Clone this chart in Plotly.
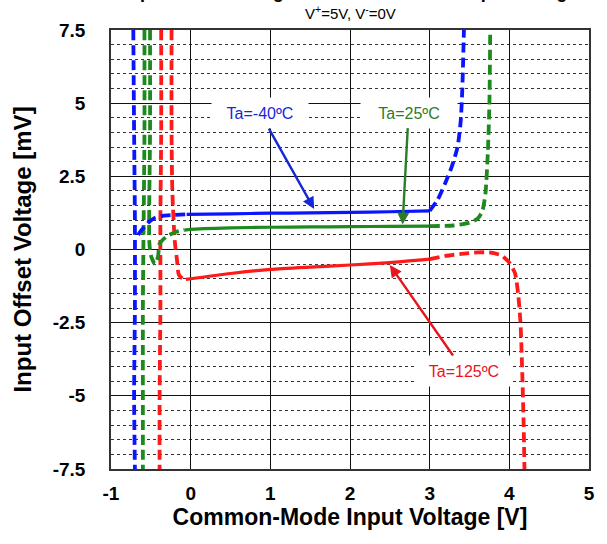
import plotly.graph_objects as go

# ---------------- data ----------------
x_ticks = [-1, 0, 1, 2, 3, 4, 5]
x_tick_text = ["-1", "0", "1", "2", "3", "4", "5"]
y_ticks = [-7.5, -5, -2.5, 0, 2.5, 5, 7.5]
y_tick_text = ["-7.5", "-5", "-2.5", "0", "2.5", "5", "7.5"]

# Ta = -40 C (blue)
blue_v_x = [-0.72, -0.71, -0.70, -0.70, -0.71, -0.70]
blue_v_y = [7.5, 4.0, 1.0, -2.0, -5.0, -7.5]
blue_join_x = [-0.66, -0.62, -0.57, -0.52, -0.45, -0.35, -0.20, -0.05]
blue_join_y = [0.50, 0.65, 0.80, 0.95, 1.08, 1.15, 1.18, 1.20]
blue_flat_x = [-0.05, 0.5, 1.0, 1.5, 2.0, 2.5, 3.0]
blue_flat_y = [1.20, 1.22, 1.24, 1.25, 1.27, 1.29, 1.32]
blue_right_x = [3.0, 3.1, 3.2, 3.28, 3.35, 3.39, 3.41, 3.43]
blue_right_y = [1.32, 1.7, 2.3, 2.85, 3.5, 4.4, 5.5, 7.5]

# Ta = 25 C (green)
green_v_x = [-0.58, -0.58, -0.59, -0.60, -0.60, -0.60]
green_v_y = [7.5, 4.0, 1.0, -2.0, -5.0, -7.5]
green_join_x = [-0.51, -0.51, -0.52, -0.52, -0.50, -0.45, -0.41, -0.39, -0.30, -0.19, -0.08]
green_join_y = [7.5, 4.0, 1.5, 0.3, -0.2, -0.5, -0.25, 0.2, 0.45, 0.60, 0.67]
green_flat_x = [-0.08, 0.0, 0.5, 1.0, 1.5, 2.0, 2.5, 3.0]
green_flat_y = [0.66, 0.69, 0.74, 0.76, 0.77, 0.78, 0.79, 0.80]
green_right_x = [3.0, 3.3, 3.5, 3.6, 3.66, 3.70, 3.73, 3.75, 3.76]
green_right_y = [0.80, 0.82, 0.92, 1.05, 1.3, 1.9, 3.3, 5.0, 7.5]

# Ta = 125 C (red)
red_v_x = [-0.37, -0.37, -0.38, -0.38, -0.39, -0.39]
red_v_y = [7.5, 4.0, 1.0, -2.0, -5.0, -7.5]
red_join_x = [-0.24, -0.24, -0.23, -0.20, -0.17, -0.15, -0.10, -0.06]
red_join_y = [7.5, 4.0, 2.0, 0.3, -0.4, -0.85, -1.0, -1.02]
red_flat_x = [-0.06, 0.5, 1.0, 1.5, 2.0, 2.5, 3.0]
red_flat_y = [-1.02, -0.82, -0.68, -0.60, -0.53, -0.45, -0.33]
red_right_x = [3.0, 3.2, 3.4, 3.6, 3.75, 3.9, 4.0, 4.07, 4.11, 4.14, 4.16, 4.18, 4.19]
red_right_y = [-0.33, -0.22, -0.15, -0.10, -0.10, -0.20, -0.45, -0.8, -1.5, -2.5, -4.0, -6.0, -7.5]

labels = ["Ta=-40ºC", "Ta=25ºC", "Ta=125ºC"]
label_points_x = [1.55, 2.66, 2.50]
label_points_y = [1.38, 0.85, -0.53]

BLUE = "#0a14ff"
GREEN = "#1e8a1e"
RED = "#ff1a1a"
FONT = "Arial, Liberation Sans, sans-serif"
DASH = "10px,5px"

fig = go.Figure()

def add(x, y, color, dashed):
    fig.add_trace(go.Scatter(
        x=x, y=y, mode="lines", showlegend=False, hoverinfo="skip",
        line=dict(color=color, width=3.8 if dashed else 3.2,
                  dash=DASH if dashed else "solid", shape="spline", smoothing=0.6)))

for color, segs in [
    (RED, [(red_v_x, red_v_y, True), (red_join_x, red_join_y, True),
           (red_flat_x, red_flat_y, False), (red_right_x, red_right_y, True)]),
    (GREEN, [(green_v_x, green_v_y, True), (green_join_x, green_join_y, True),
             (green_flat_x, green_flat_y, False), (green_right_x, green_right_y, True)]),
    (BLUE, [(blue_v_x, blue_v_y, True), (blue_join_x, blue_join_y, True),
            (blue_flat_x, blue_flat_y, False), (blue_right_x, blue_right_y, True)]),
]:
    for sx, sy, d in segs:
        add(sx, sy, color, d)

ann_colors = ["#1428d8", "#2a7d2a", "#e8141e"]
ann_ax = [-54, 6, 74]
ann_ay = [-96, -112, 106]
for txt, px, py, c, ax, ay in zip(labels, label_points_x, label_points_y, ann_colors, ann_ax, ann_ay):
    fig.add_annotation(
        x=px, y=py, xref="x", yref="y", text=txt, showarrow=True,
        ax=ax, ay=ay, arrowcolor=c, arrowwidth=2.4, arrowhead=2, arrowsize=1,
        font=dict(family=FONT, size=16, color=c),
        bgcolor="white", width=86, height=20, borderpad=5)

# subtitle and (cut-off) title
fig.add_annotation(
    text="<b>Input Offset Voltage vs. Common-Mode Input Voltage</b>",
    xref="paper", yref="paper", x=0.5, y=1 + 26 / 439, xanchor="center", yanchor="bottom",
    showarrow=False, font=dict(family=FONT, size=18, color="black"))
fig.add_annotation(
    text="V<sup>+</sup>=5V, V<sup>-</sup>=0V",
    xref="paper", yref="paper", x=0.5, y=1 + 6 / 439, xanchor="center", yanchor="bottom",
    showarrow=False, font=dict(family=FONT, size=15, color="black"))

fig.update_xaxes(
    range=[-1, 5], tickvals=x_ticks, ticktext=["<b>%s</b>" % t for t in x_tick_text],
    showgrid=True, gridcolor="#111", gridwidth=1.4,
    zeroline=False, showline=True, linecolor="#333", linewidth=1.6, mirror=True,
    ticks="", ticklabelstandoff=6,
    tickfont=dict(family=FONT, size=19, color="black", weight="bold"),
    title=dict(text="<b>Common-Mode Input Voltage [V]</b>", standoff=4,
               font=dict(family=FONT, size=23, color="black")))
fig.update_yaxes(
    range=[-7.5, 7.5], tickvals=y_ticks, ticktext=["<b>%s</b>" % t for t in y_tick_text],
    showgrid=True, gridcolor="#111", gridwidth=1.4,
    minor=dict(dtick=0.5, showgrid=True, gridcolor="#333", griddash="dot", gridwidth=1),
    zeroline=False, showline=True, linecolor="#333", linewidth=1.6, mirror=True,
    ticks="", ticklabelstandoff=20,
    tickfont=dict(family=FONT, size=19, color="black", weight="bold"),
    title=dict(text="<b>Input Offset Voltage [mV]</b>", standoff=14,
               font=dict(family=FONT, size=24, color="black")))

fig.update_layout(
    width=607, height=544,
    margin=dict(l=111, r=12, t=30, b=75),
    paper_bgcolor="white", plot_bgcolor="white",
    font=dict(family=FONT, color="black"))

fig.write_html("out.html", config={"displayModeBar": False},
               post_script="document.body.style.margin='0';document.body.style.overflow='hidden';")
